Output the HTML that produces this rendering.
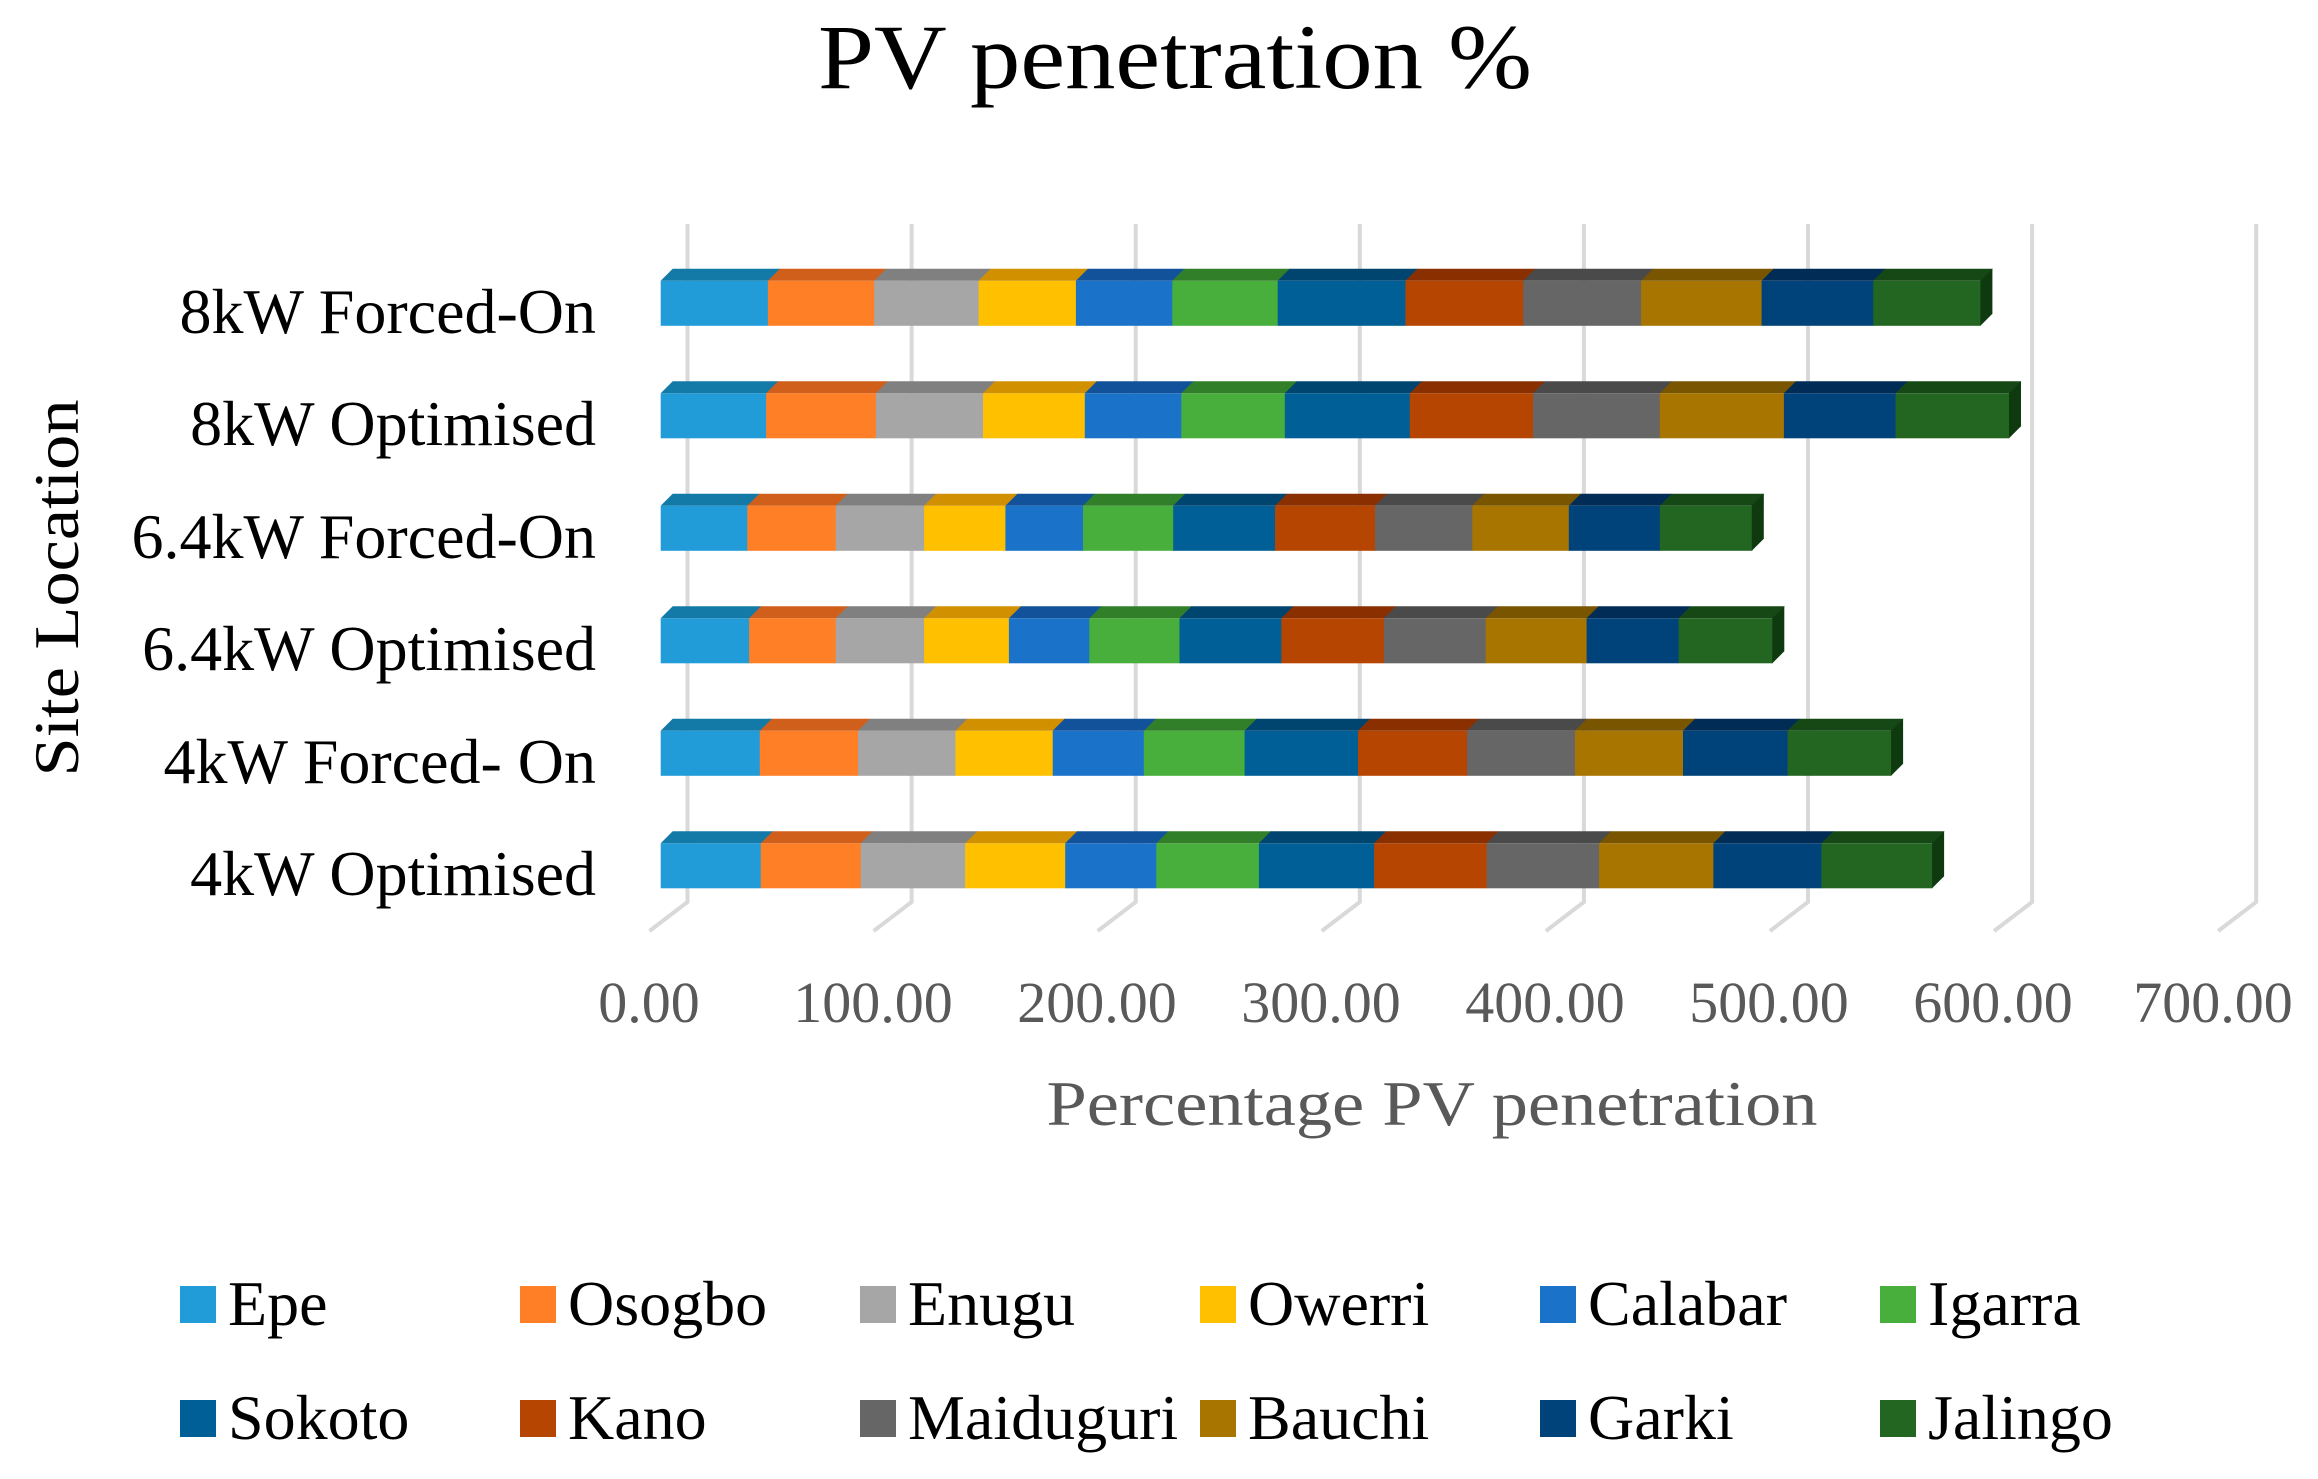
<!DOCTYPE html>
<html><head><meta charset="utf-8"><style>html,body{margin:0;padding:0;background:#fff}svg{display:block}</style></head>
<body>
<svg id="s" width="2318" height="1479" viewBox="0 0 2318 1479" xmlns="http://www.w3.org/2000/svg" font-family="'Liberation Serif', serif">
<rect width="2318" height="1479" fill="#fff"/>
<g id="grid" stroke="#d9d9d9" stroke-width="4" fill="none"></g>
<g id="bars"></g>
<text x="1175" y="88" font-size="92" text-anchor="middle" textLength="714" lengthAdjust="spacingAndGlyphs">PV penetration %</text>
<g font-size="64" text-anchor="end" fill="#000">
<text x="596" y="333">8kW Forced-On</text>
<text x="596" y="445">8kW Optimised</text>
<text x="596" y="558">6.4kW Forced-On</text>
<text x="596" y="670">6.4kW Optimised</text>
<text x="596" y="783">4kW Forced- On</text>
<text x="596" y="895">4kW Optimised</text>
</g>
<text transform="translate(78,588) rotate(-90)" font-size="64" text-anchor="middle" textLength="377" lengthAdjust="spacingAndGlyphs">Site Location</text>
<g font-size="58" fill="#595959" text-anchor="middle">
<text x="649" y="1022">0.00</text>
<text x="873" y="1022">100.00</text>
<text x="1097" y="1022">200.00</text>
<text x="1321" y="1022">300.00</text>
<text x="1545" y="1022">400.00</text>
<text x="1769" y="1022">500.00</text>
<text x="1993" y="1022">600.00</text>
<text x="2213" y="1022">700.00</text>
</g>
<text x="1432" y="1125" font-size="64" fill="#595959" text-anchor="middle" textLength="771" lengthAdjust="spacingAndGlyphs">Percentage PV penetration</text>
<g id="leg" font-size="64"></g>
</svg>
<script>
var NS="http://www.w3.org/2000/svg";
function el(p,t,a){var e=document.createElementNS(NS,t);for(var k in a)e.setAttribute(k,a[k]);p.appendChild(e);return e;}
var g=document.getElementById('grid');
for(var i=0;i<8;i++){var x=687.5+224.1*i;el(g,'polyline',{points:(x)+',224 '+x+',902 '+(x-38)+',931'});}
var front=['#229CD8','#FF7F27','#A6A6A6','#FFC000','#1A73C8','#48AF3C','#005F96','#B54500','#666666','#A87600','#00427A','#226622'];
var top_=['#137AA8','#D05F1B','#808080','#D09000','#11529A','#327F2A','#004470','#8A3000','#4A4A4A','#7A5500','#002C55','#154815'];
var rows=[
[660.7,767.9,874.1,978.6,1075.9,1172.3,1277.7,1405.4,1523.2,1641.1,1761.6,1873.2,1980.4],
[660.7,766.1,875.9,983,1084.8,1181.3,1284.8,1409.8,1533,1659.8,1783.9,1895.5,2009],
[660.7,747.3,835.7,924.1,1005.4,1083,1173.2,1275,1375,1472.3,1568.8,1659.8,1751.8],
[660.7,749.1,835.7,924.1,1008.9,1089.3,1179.5,1281.3,1383.9,1485.7,1586.6,1678.6,1772.3],
[660.7,759.8,858,955.4,1052.7,1143.8,1244.6,1358,1467,1575,1683,1787.5,1891.1],
[660.7,760.7,860.7,965.2,1065.2,1156.3,1258.9,1374.1,1486.6,1599.1,1713.4,1821.4,1932.1]];
var b=document.getElementById('bars');var d=12;
rows.forEach(function(r,ri){var t=268.8+112.5*ri;var f=t+d,bt=t+d+45;
for(var j=0;j<12;j++){var x0=r[j],x1=r[j+1];
el(b,'rect',{x:x0,y:f,width:x1-x0+0.5,height:45,fill:front[j]});
el(b,'polygon',{points:x0+','+f+' '+(x0+d)+','+t+' '+(x1+d+0.5)+','+t+' '+(x1+0.5)+','+f,fill:top_[j]});}
var xe=r[12];el(b,'polygon',{points:xe+','+f+' '+(xe+d)+','+t+' '+(xe+d)+','+(bt-d)+' '+xe+','+bt,fill:'#0f3a0f'});});
var names=['Epe','Osogbo','Enugu','Owerri','Calabar','Igarra','Sokoto','Kano','Maiduguri','Bauchi','Garki','Jalingo'];
var L=document.getElementById('leg');
names.forEach(function(n,i){var c=i%6,rr=Math.floor(i/6);var x=180+340*c,y=rr?1439:1325;
el(L,'rect',{x:x,y:y-39,width:36,height:37,fill:front[i]});
var tx=el(L,'text',{x:x+48,y:y});tx.textContent=n;});
</script>
</body></html>
